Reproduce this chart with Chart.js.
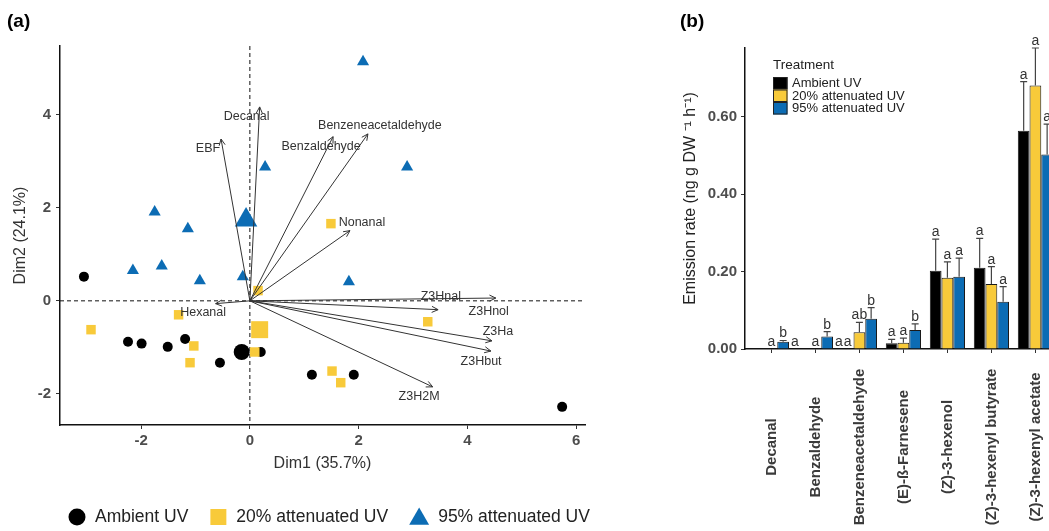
<!DOCTYPE html>
<html>
<head>
<meta charset="utf-8">
<script src="https://cdn.jsdelivr.net/npm/chart.js@4.4.1/dist/chart.umd.min.js"></script>
<style>
    html, body { margin: 0; padding: 0; background: #fff; overflow: hidden; }
    #wrap { position: relative; width: 1049px; height: 531px; overflow: hidden; }
    #pca { position: absolute; left: 0; top: 0; }
    #bars { position: absolute; left: 640px; top: 0; }
</style>
</head>
<body>
<div id="wrap">
    <canvas id="pca" width="640" height="531"></canvas>
    <canvas id="bars" width="440" height="531"></canvas>
</div>
<script>
// ---- Panel (a) : PCA scores ----
const ambientX = [-3.05, -2.24, -1.99, -1.51, -1.19, 0.20, -0.55, 1.14, 1.91, 5.74];
const ambientY = [0.52, -0.88, -0.92, -0.99, -0.82, -1.10, -1.33, -1.59, -1.59, -2.28];
const att20X = [1.49, 0.15, -1.31, -2.92, 3.27, -1.03, -1.10, 0.09, 1.51, 1.67];
const att20Y = [1.66, 0.22, -0.30, -0.62, -0.45, -0.97, -1.33, -1.10, -1.51, -1.76];
const att95X = [2.08, 0.28, 2.89, -1.75, -1.14, -2.15, -1.62, -0.92, -0.13, 1.82];
const att95Y = [5.14, 2.88, 2.88, 1.91, 1.55, 0.65, 0.75, 0.43, 0.52, 0.41];
// centroids : ambient, 20%, 95%
const centroidX = [-0.15, 0.18, -0.07];
const centroidY = [-1.10, -0.62, 1.74];

// loadings (arrows) and their label positions
const varNames = ['Decanal', 'EBF', 'Benzaldehyde', 'Benzeneacetaldehyde', 'Nonanal', 'Hexanal',
    'Z3Hnal', 'Z3Hnol', 'Z3Ha', 'Z3Hbut', 'Z3H2M'];
const varX = [0.18, -0.53, 1.53, 2.17, 1.84, -0.63, 4.52, 3.46, 4.45, 4.43, 3.36];
const varY = [4.17, 3.48, 3.53, 3.59, 1.51, -0.06, 0.06, -0.19, -0.86, -1.08, -1.85];
const varLabelX = [-0.06, -0.77, 1.31, 2.39, 2.06, -0.86, 3.51, 4.39, 4.56, 4.25, 3.11];
const varLabelY = [3.96, 3.27, 3.31, 3.78, 1.68, -0.26, 0.09, -0.24, -0.67, -1.31, -2.06];

const pcaTicksX = [-2, 0, 2, 4, 6];
const pcaTicksY = [-2, 0, 2, 4];

// ---- Panel (b) : emission rates ----
const compounds = ['Decanal', 'Benzaldehyde', 'Benzeneacetaldehyde', '(E)-ß-Farnesene',
    '(Z)-3-hexenol', '(Z)-3-hexenyl butyrate', '(Z)-3-hexenyl acetate'];
const ambientMean = [0, 0, 0, 0.015, 0.202, 0.210, 0.564];
const ambientErr = [0, 0, 0, 0.010, 0.082, 0.076, 0.127];
const att20Mean = [0, 0, 0.043, 0.016, 0.184, 0.168, 0.681];
const att20Err = [0, 0, 0.026, 0.012, 0.041, 0.045, 0.097];
const att95Mean = [0.019, 0.032, 0.078, 0.049, 0.187, 0.122, 0.503];
const att95Err = [0.003, 0.013, 0.029, 0.016, 0.048, 0.039, 0.078];
const ambientLetter = ['a', 'a', 'a', 'a', 'a', 'a', 'a'];
const att20Letter = ['b', 'b', 'ab', 'a', 'a', 'a', 'a'];
const att95Letter = ['a', 'a', 'b', 'b', 'a', 'a', 'a'];
// letters of the first two compounds sit one bar to the right in the figure
const letterShift = [1, 1, 0, 0, 0, 0, 0];
const rateTicks = [0, 0.2, 0.4, 0.6];

const treatments = ['Ambient UV', '20% attenuated UV', '95% attenuated UV'];
const BLACK = '#000000';
const YELLOW = '#f8ca3a';
const BLUE = '#0c6cb4';
const FONT = "'Liberation Sans', Arial, sans-serif";

Chart.defaults.font.family = FONT;
Chart.defaults.color = '#333';

function toPoints(xs, ys) {
    return xs.map((x, i) => ({ x: x, y: ys[i] }));
}

// Lignes pointillées à zéro
const zeroLines = {
    id: 'zeroLines',
    beforeDatasetsDraw(chart) {
        const { ctx, chartArea: a, scales: { x, y } } = chart;
        ctx.save();
        ctx.strokeStyle = '#111';
        ctx.lineWidth = 1;
        ctx.setLineDash([4, 3]);
        ctx.beginPath();
        ctx.moveTo(x.getPixelForValue(0), a.top);
        ctx.lineTo(x.getPixelForValue(0), a.bottom);
        ctx.moveTo(a.left, y.getPixelForValue(0));
        ctx.lineTo(a.right, y.getPixelForValue(0));
        ctx.stroke();
        ctx.restore();
    }
};

// Flèches des variables
const loadings = {
    id: 'loadings',
    afterDatasetsDraw(chart) {
        const { ctx, scales: { x, y } } = chart;
        const x0 = x.getPixelForValue(0), y0 = y.getPixelForValue(0);
        ctx.save();
        ctx.strokeStyle = '#333';
        ctx.lineWidth = 1;
        varNames.forEach((name, i) => {
            const x1 = x.getPixelForValue(varX[i]), y1 = y.getPixelForValue(varY[i]);
            const ang = Math.atan2(y1 - y0, x1 - x0);
            ctx.beginPath();
            ctx.moveTo(x0, y0);
            ctx.lineTo(x1, y1);
            ctx.moveTo(x1 - 7 * Math.cos(ang - 0.45), y1 - 7 * Math.sin(ang - 0.45));
            ctx.lineTo(x1, y1);
            ctx.lineTo(x1 - 7 * Math.cos(ang + 0.45), y1 - 7 * Math.sin(ang + 0.45));
            ctx.stroke();
        });
        ctx.fillStyle = '#333';
        ctx.font = '12.5px ' + FONT;
        ctx.textAlign = 'center';
        ctx.textBaseline = 'middle';
        varNames.forEach((name, i) => {
            ctx.fillText(name, x.getPixelForValue(varLabelX[i]), y.getPixelForValue(varLabelY[i]));
        });
        ctx.restore();
    }
};

// Légende du bas + lettre du panneau
const pcaLegend = {
    id: 'pcaLegend',
    afterDraw(chart) {
        const ctx = chart.ctx;
        ctx.save();
        ctx.fillStyle = '#000';
        ctx.font = 'bold 19px ' + FONT;
        ctx.textBaseline = 'middle';
        ctx.textAlign = 'left';
        ctx.fillText('(a)', 7, 22);

        const styles = [
            { pointStyle: 'circle', radius: 8.5, w: 18 },
            { pointStyle: 'rect', radius: 11.3, w: 18 },
            { pointStyle: 'triangle', radius: 11.5, w: 20 }
        ];
        ctx.font = '17.5px ' + FONT;
        let x = 68;
        const yc = 517;
        treatments.forEach((label, i) => {
            const ds = chart.data.datasets[i];
            const st = styles[i];
            ctx.fillStyle = ds.backgroundColor;
            ctx.strokeStyle = ds.backgroundColor;
            Chart.helpers.drawPoint(ctx, { pointStyle: st.pointStyle, radius: st.radius, rotation: 0, borderWidth: 0 },
                x + st.w / 2, st.pointStyle === 'triangle' ? yc + 2 : yc);
            ctx.fillStyle = '#222';
            ctx.fillText(label, x + st.w + 9, yc);
            x += st.w + 9 + ctx.measureText(label).width + 21;
        });
        ctx.restore();
    }
};

function pcaDataset(label, pts, style, color, radius, order) {
    return {
        label: label,
        data: pts,
        pointStyle: style,
        pointRadius: radius,
        pointBorderWidth: 0,
        backgroundColor: color,
        borderColor: color,
        order: order
    };
}

function axisTicks(values) {
    return function (scale) {
        scale.ticks = values.map(v => ({ value: v }));
    };
}

new Chart(document.getElementById('pca'), {
    type: 'scatter',
    data: {
        datasets: [
            pcaDataset(treatments[0], toPoints(ambientX, ambientY), 'circle', BLACK, 5, 6),
            pcaDataset(treatments[1], toPoints(att20X, att20Y), 'rect', YELLOW, 6.7, 4),
            pcaDataset(treatments[2], toPoints(att95X, att95Y), 'triangle', BLUE, 7, 2),
            pcaDataset('c1', [{ x: centroidX[0], y: centroidY[0] }], 'circle', BLACK, 8, 5),
            pcaDataset('c2', [{ x: centroidX[1], y: centroidY[1] }], 'rect', YELLOW, 12, 3),
            pcaDataset('c3', [{ x: centroidX[2], y: centroidY[2] }], 'triangle', BLUE, 13, 1)
        ]
    },
    options: {
        responsive: false,
        devicePixelRatio: 1,
        animation: false,
        events: [],
        layout: { padding: { left: 0, top: 46, right: 55, bottom: 46 } },
        plugins: { legend: { display: false }, tooltip: { enabled: false } },
        scales: {
            x: {
                type: 'linear',
                min: -3.49,
                max: 6.16,
                afterBuildTicks: axisTicks(pcaTicksX),
                afterFit: s => { s.height = 60; },
                grid: { drawOnChartArea: false, drawTicks: true, tickLength: 4, color: '#333' },
                border: { display: true, color: '#111', width: 1.5 },
                ticks: { color: '#4d4d4d', font: { size: 15, weight: 'bold' }, padding: 3, maxRotation: 0 },
                title: { display: true, text: 'Dim1 (35.7%)', color: '#333', font: { size: 16 }, padding: { top: 0, bottom: 12 } }
            },
            y: {
                type: 'linear',
                min: -2.67,
                max: 5.48,
                afterBuildTicks: axisTicks(pcaTicksY),
                afterFit: s => { s.width = 60; },
                grid: { drawOnChartArea: false, drawTicks: true, tickLength: 4, color: '#333' },
                border: { display: true, color: '#111', width: 1.5 },
                ticks: { color: '#4d4d4d', font: { size: 15, weight: 'bold' }, padding: 5 },
                title: { display: true, text: 'Dim2 (24.1%)', color: '#333', font: { size: 16 }, padding: { top: 11, bottom: 0 } }
            }
        }
    },
    plugins: [zeroLines, loadings, pcaLegend]
});

// ---- Panel (b) ----
const means = [ambientMean, att20Mean, att95Mean];
const errs = [ambientErr, att20Err, att95Err];
const letters = [ambientLetter, att20Letter, att95Letter];

// Barres d'erreur (moyenne + erreur standard)
const errorBars = {
    id: 'errorBars',
    afterDatasetsDraw(chart) {
        const { ctx, scales: { y } } = chart;
        ctx.save();
        ctx.strokeStyle = '#444';
        ctx.lineWidth = 1.2;
        means.forEach((m, d) => {
            const meta = chart.getDatasetMeta(d);
            m.forEach((v, i) => {
                if (!errs[d][i]) return;
                const bx = meta.data[i].x;
                const y0 = y.getPixelForValue(v), y1 = y.getPixelForValue(v + errs[d][i]);
                ctx.beginPath();
                ctx.moveTo(bx, y0);
                ctx.lineTo(bx, y1);
                ctx.moveTo(bx - 3.5, y1);
                ctx.lineTo(bx + 3.5, y1);
                ctx.stroke();
            });
        });
        ctx.restore();
    }
};

// Lettres de significativité
const sigLetters = {
    id: 'sigLetters',
    afterDraw(chart) {
        const { ctx, scales: { y } } = chart;
        ctx.save();
        ctx.fillStyle = '#333';
        ctx.font = '14px ' + FONT;
        ctx.textAlign = 'center';
        ctx.textBaseline = 'alphabetic';
        letters.forEach((arr, d) => {
            arr.forEach((txt, i) => {
                const slot = d + letterShift[i];
                let bx, top;
                if (slot < means.length) {
                    bx = chart.getDatasetMeta(slot).data[i].x;
                    top = means[slot][i] + errs[slot][i];
                } else {
                    const b1 = chart.getDatasetMeta(1).data[i].x;
                    const b2 = chart.getDatasetMeta(2).data[i].x;
                    bx = b2 + (b2 - b1);
                    top = 0;
                }
                ctx.fillText(txt, bx, y.getPixelForValue(top) - 3);
            });
        });
        ctx.restore();
    }
};

// Légende intérieure, étiquettes des composés, lettre du panneau
const rateDecor = {
    id: 'rateDecor',
    afterDraw(chart) {
        const { ctx, chartArea: a, scales: { x } } = chart;
        ctx.save();
        ctx.fillStyle = '#000';
        ctx.font = 'bold 19px ' + FONT;
        ctx.textAlign = 'left';
        ctx.textBaseline = 'middle';
        ctx.fillText('(b)', 40, 22);

        // légende
        const lx = a.left + 28;
        ctx.fillStyle = '#222';
        ctx.font = '13.5px ' + FONT;
        ctx.fillText('Treatment', lx, a.top + 17);
        ctx.font = '13px ' + FONT;
        chart.data.datasets.forEach((ds, i) => {
            const ky = a.top + 29 + i * 12.5;
            ctx.fillStyle = ds.backgroundColor;
            ctx.fillRect(lx, ky, 14.5, 12.5);
            ctx.strokeStyle = '#222';
            ctx.lineWidth = 1;
            ctx.strokeRect(lx + 0.5, ky + 0.5, 13.5, 11.5);
            ctx.fillStyle = '#222';
            ctx.fillText(ds.label, lx + 19, ky + 6.5);
        });

        // étiquettes des composés (verticales, centrées)
        ctx.fillStyle = '#3a3a3a';
        ctx.font = 'bold 15px ' + FONT;
        ctx.textAlign = 'center';
        compounds.forEach((name, i) => {
            ctx.save();
            ctx.translate(x.getPixelForValue(i), a.bottom + 98);
            ctx.rotate(-Math.PI / 2);
            ctx.fillText(name, 0, 0);
            ctx.restore();
        });
        ctx.restore();
    }
};

function rateDataset(label, values, color) {
    return {
        label: label,
        data: values.map((v, i) => ({ x: i, y: v })),
        backgroundColor: color,
        borderColor: '#1a1a1a',
        borderWidth: 1,
        categoryPercentage: 0.8,
        barPercentage: 1.0
    };
}

new Chart(document.getElementById('bars'), {
    type: 'bar',
    data: {
        datasets: [
            rateDataset(treatments[0], ambientMean, BLACK),
            rateDataset(treatments[1], att20Mean, YELLOW),
            rateDataset(treatments[2], att95Mean, BLUE)
        ]
    },
    options: {
        responsive: false,
        devicePixelRatio: 1,
        animation: false,
        events: [],
        layout: { padding: { left: 0, top: 48, right: 18.2, bottom: 0 } },
        plugins: { legend: { display: false }, tooltip: { enabled: false } },
        scales: {
            x: {
                type: 'linear',
                offset: false,
                min: -0.6,
                max: 6.6,
                afterBuildTicks: axisTicks(compounds.map((c, i) => i)),
                afterFit: s => { s.height = 182; },
                grid: { offset: false, drawOnChartArea: false, drawTicks: true, tickLength: 4, color: '#333' },
                border: { display: true, color: '#111', width: 1.5 },
                ticks: { display: false }
            },
            y: {
                type: 'linear',
                min: 0,
                max: 0.778,
                afterBuildTicks: axisTicks(rateTicks),
                afterFit: s => { s.width = 105; },
                grid: { drawOnChartArea: false, drawTicks: true, tickLength: 4, color: '#333' },
                border: { display: true, color: '#111', width: 1.5 },
                ticks: {
                    color: '#4d4d4d',
                    font: { size: 15, weight: 'bold' },
                    padding: 4,
                    callback: v => v.toFixed(2)
                },
                title: {
                    display: true,
                    text: 'Emission rate (ng g DW \u207B\u00B9 h\u207B\u00B9)',
                    color: '#222',
                    font: { size: 16 },
                    padding: { top: 41, bottom: 0 }
                }
            }
        }
    },
    plugins: [errorBars, sigLetters, rateDecor]
});
</script>
</body>
</html>
